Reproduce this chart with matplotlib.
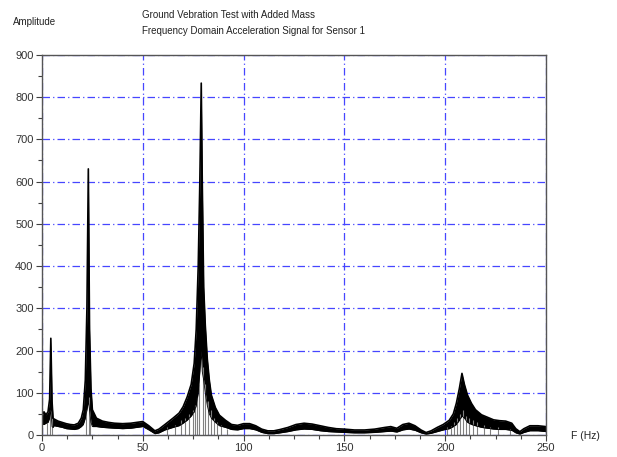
import numpy as np
import matplotlib.pyplot as plt
from matplotlib.ticker import MultipleLocator

# Spectrum: frequency, top and bottom of the dense band
freq = [0, 1, 2, 3, 3.8, 4.4, 5.0, 5.5, 6, 8, 10, 12, 14, 16, 18, 19.5, 20.5,
        21.5, 22.3, 23.0, 23.6, 24.3, 25, 27, 30, 33, 36, 40, 44, 47, 50, 53,
        56, 58, 61, 65, 68, 70, 72, 74, 75.5, 76.5, 77.5, 78.3, 79.0, 79.5,
        80.2, 81, 82, 83, 84, 86, 88, 91, 94, 97, 100, 103, 106, 109, 112,
        115, 118, 122, 126, 130, 134, 138, 142, 146, 150, 155, 160, 165, 170,
        173, 176, 179, 182, 185, 188, 190.5, 193, 196, 199, 202, 204, 205.5,
        207, 208.3, 209.5, 211, 213, 215, 218, 221, 224, 227, 230, 233, 235,
        237, 239, 242, 246, 250]
amp_hi = [45, 55, 48, 55, 85, 229, 80, 40, 38, 33, 30, 27, 25, 24, 28, 40, 60,
          130, 300, 630, 250, 110, 60, 40, 33, 30, 28, 27, 28, 30, 32, 22,
          10, 14, 25, 40, 52, 67, 90, 120, 170, 250, 400, 600, 833, 600,
          350, 260, 180, 130, 95, 65, 47, 35, 25, 23, 27, 27, 22, 14, 10,
          10, 13, 18, 25, 28, 26, 22, 18, 15, 14, 12, 12, 14, 18,
          20, 16, 25, 28, 22, 12, 6, 10, 18, 25, 35, 50, 75,
          110, 146, 120, 95, 75, 60, 48, 42, 36, 34, 33, 28, 15,
          8, 15, 22, 22, 20]
amp_lo = [25, 25, 28, 30, 40, 60, 20, 18, 22, 20, 18, 15, 14, 13, 15, 20, 25,
          40, 60, 80, 60, 30, 20, 20, 18, 17, 16, 15, 16, 18, 20, 12,
          3, 5, 12, 18, 22, 28, 35, 45, 55, 70, 100, 150, 200, 150,
          130, 100, 70, 50, 40, 30, 22, 18, 13, 12, 15, 15, 12, 6, 3,
          3, 5, 8, 12, 14, 13, 10, 8, 7, 6, 5, 5, 6, 8,
          9, 7, 12, 14, 11, 5, 2, 4, 8, 12, 15, 20, 25,
          35, 45, 40, 30, 25, 22, 18, 16, 14, 13, 13, 11, 5,
          2, 6, 10, 10, 8]

# grey low samples showing through under the peaks
spike_f = [2.5, 4.0, 4.8, 21.8, 23.3, 24.0, 62, 66, 69, 71, 73, 75, 76, 77,
           78, 80, 81, 82.5, 84, 85.5, 87, 89, 92, 201, 203, 204.5, 206,
           207.5, 209, 210.5, 212, 214, 216, 219, 222, 226, 232]
spike_top = [30, 60, 40, 60, 90, 40, 20, 25, 35, 40, 50, 60, 70, 90,
             120, 160, 120, 80, 60, 40, 30, 25, 15, 18, 22, 30, 40,
             50, 60, 45, 40, 35, 30, 25, 20, 18, 15]

plt.rcParams['font.family'] = ['Liberation Sans', 'DejaVu Sans']

fig = plt.figure(figsize=(6.17, 4.57), dpi=100)
ax = fig.add_axes([0.068, 0.048, 0.817, 0.832])

ax.grid(True, which='major', color='#4646ff', linestyle=(0, (6, 2.5, 1, 2.5)),
        linewidth=0.9)
ax.set_axisbelow(True)

ax.vlines(spike_f, 0, spike_top, color='#808080', linewidth=0.8)
ax.fill_between(freq, amp_lo, amp_hi, color='black', linewidth=0)
ax.plot(freq, amp_hi, color='black', linewidth=1.2)
ax.plot(freq, amp_lo, color='black', linewidth=0.6)

ax.set_xlim(0, 250)
ax.set_ylim(0, 900)
ax.xaxis.set_major_locator(MultipleLocator(50))
ax.xaxis.set_minor_locator(MultipleLocator(12.5))
ax.yaxis.set_major_locator(MultipleLocator(100))
ax.yaxis.set_minor_locator(MultipleLocator(50))
ax.tick_params(which='both', direction='out', colors='#404040', labelsize=8,
               labelcolor='#333333')
ax.tick_params(which='major', length=4, width=0.8, pad=2)
ax.tick_params(which='minor', length=3, width=0.8)
for s in ax.spines.values():
    s.set_color('#555555')
    s.set_linewidth(1.0)

fig.text(13 / 617, 1 - 22 / 457, 'Amplitude', fontsize=7, color='#222222',
         va='center', ha='left')
fig.text(142 / 617, 1 - 15 / 457, 'Ground Vebration Test with Added Mass',
         fontsize=7, color='#222222', va='center', ha='left')
fig.text(142 / 617, 1 - 31 / 457,
         'Frequency Domain Acceleration Signal for Sensor 1',
         fontsize=7, color='#222222', va='center', ha='left')
fig.text(571 / 617, 1 - 436 / 457, 'F (Hz)', fontsize=7.5, color='#222222',
         va='center', ha='left')

fig.savefig('out.png', dpi=100)
